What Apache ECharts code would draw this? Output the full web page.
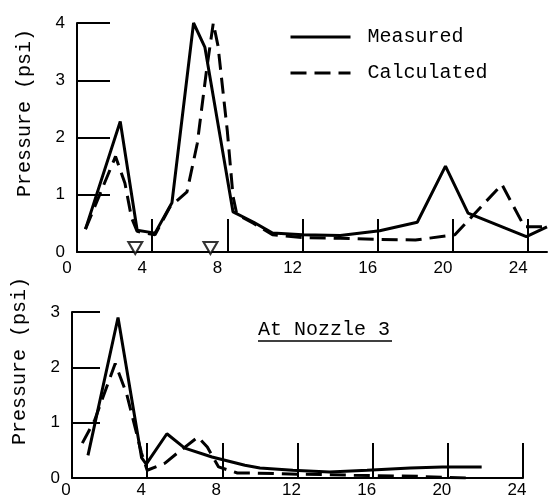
<!DOCTYPE html>
<html>
<head>
<meta charset="utf-8">
<script src="https://cdn.jsdelivr.net/npm/echarts@6/dist/echarts.min.js"></script>
<style>
  html, body { margin: 0; padding: 0; background: #fff; }
  #chart { width: 548px; height: 503px; }
</style>
</head>
<body>
<div id="chart"></div>
<script>
  // tick labels
  var xTicks = [0, 4, 8, 12, 16, 20, 24];

  // upper panel
  var topMeasuredX = [0.45, 2.3, 3.2, 4.15, 5.05, 6.2, 6.8, 8.3, 9.4, 10.4, 12, 14, 16.1, 18.1, 19.6, 20.8, 23.9, 25];
  var topMeasuredY = [0.4, 2.28, 0.38, 0.33, 0.86, 4.0, 3.58, 0.7, 0.52, 0.33, 0.3, 0.29, 0.37, 0.52, 1.5, 0.68, 0.27, 0.44];
  var topCalcX = [0.45, 2.05, 2.55, 2.9, 3.2, 4.15, 4.95, 5.85, 6.4, 6.9, 7.25, 7.5, 8.0, 8.3, 8.5, 9.4, 10.4, 12, 14, 16, 18, 20.1, 22.6, 23.8, 25];
  var topCalcY = [0.4, 1.67, 1.2, 0.6, 0.36, 0.3, 0.79, 1.05, 1.9, 3.2, 4.0, 3.6, 2.1, 0.97, 0.66, 0.5, 0.3, 0.25, 0.24, 0.22, 0.21, 0.3, 1.18, 0.44, 0.44];
  var markerX = [3.1, 7.1];
  var markerY = [0.07, 0.07];

  // lower panel (At Nozzle 3)
  var botMeasuredX = [0.85, 2.45, 3.7, 3.95, 5.05, 6.0, 7.45, 9.2, 10, 11.75, 13.7, 15.7, 18, 19.7, 21.8];
  var botMeasuredY = [0.41, 2.9, 0.37, 0.25, 0.8, 0.54, 0.38, 0.23, 0.18, 0.14, 0.11, 0.14, 0.18, 0.2, 0.2];
  var botCalcX = [0.55, 1.2, 2.3, 2.9, 3.7, 4.0, 4.95, 5.6, 6.7, 7.2, 7.8, 8.8, 9.5, 12, 15, 18.4, 20, 21];
  var botCalcY = [0.63, 1.04, 2.07, 1.53, 0.45, 0.14, 0.27, 0.45, 0.74, 0.56, 0.2, 0.09, 0.09, 0.07, 0.05, 0.03, 0.01, 0];

  function zip(xs, ys) {
    var out = [];
    for (var i = 0; i < xs.length; i++) out.push([xs[i], ys[i]]);
    return out;
  }

  var ink = '#000';
  var numFont = {fontFamily: 'Liberation Sans', fontSize: 17, color: ink};
  var monoFont = 'Liberation Mono';

  function xAxis(gi, max, tickLen, margin, shift) {
    return {
      gridIndex: gi, type: 'value', min: 0, max: max, interval: 4,
      axisLine: {lineStyle: {color: ink, width: 2}},
      axisTick: {inside: true, length: tickLen, customValues: xTicks, lineStyle: {color: ink, width: 2}},
      axisLabel: Object.assign({margin: margin, customValues: xTicks, padding: [0, shift, 0, 0]}, numFont),
      splitLine: {show: false}
    };
  }

  function yAxis(gi, max, tickLen) {
    return {
      gridIndex: gi, type: 'value', min: 0, max: max, interval: 1,
      axisLine: {lineStyle: {color: ink, width: 2}},
      axisTick: {inside: true, length: tickLen, lineStyle: {color: ink, width: 2}},
      axisLabel: Object.assign({margin: 12, padding: [0, 0, 10, 0]}, numFont),
      splitLine: {show: false}
    };
  }

  function line(name, gi, data, dashed) {
    return {
      name: name, type: 'line', xAxisIndex: gi, yAxisIndex: gi,
      data: data, symbol: 'none', z: 5,
      lineStyle: {color: ink, width: 3, type: dashed ? [16, 8] : 'solid'},
      itemStyle: {color: ink}
    };
  }

  var chart = echarts.init(document.getElementById('chart'));
  chart.setOption({
    animation: false,
    backgroundColor: '#fff',
    grid: [
      {left: 77, top: 23, width: 470, height: 229},
      {left: 72, top: 312, width: 451, height: 166}
    ],
    xAxis: [xAxis(0, 25, 33, 8, 20), xAxis(1, 24, 35, 4, 12)],
    yAxis: [yAxis(0, 4, 33), yAxis(1, 3, 28)],
    legend: {
      data: ['Measured', 'Calculated'],
      orient: 'vertical', left: 284, top: 22,
      itemWidth: 60, itemHeight: 14, itemGap: 16,
      itemStyle: {opacity: 0},
      lineStyle: {width: 3},
      textStyle: {fontFamily: monoFont, fontSize: 20, color: ink, padding: [0, 0, 0, 12]}
    },
    graphic: [
      {type: 'text', x: 25, y: 113, rotation: Math.PI / 2,
        style: {text: 'Pressure (psi)', font: '20px "Liberation Mono"', fill: ink, align: 'center', verticalAlign: 'middle'}},
      {type: 'text', x: 20, y: 361, rotation: Math.PI / 2,
        style: {text: 'Pressure (psi)', font: '20px "Liberation Mono"', fill: ink, align: 'center', verticalAlign: 'middle'}},
      {type: 'text', x: 258, y: 330,
        style: {text: 'At Nozzle 3', font: '20px "Liberation Mono"', fill: ink, align: 'left', verticalAlign: 'middle'}},
      {type: 'line', shape: {x1: 258, y1: 341, x2: 392, y2: 341}, style: {stroke: ink, lineWidth: 1.5}}
    ],
    series: [
      line('Measured', 0, zip(topMeasuredX, topMeasuredY), false),
      line('Calculated', 0, zip(topCalcX, topCalcY), true),
      line('Measured', 1, zip(botMeasuredX, botMeasuredY), false),
      line('Calculated', 1, zip(botCalcX, botCalcY), true),
      {
        name: 'nozzle', type: 'scatter', xAxisIndex: 0, yAxisIndex: 0,
        data: zip(markerX, markerY), symbol: 'triangle', symbolRotate: 180,
        symbolSize: [14, 12], z: 6,
        itemStyle: {color: '#fff', borderColor: ink, borderWidth: 2}
      }
    ]
  });
</script>
</body>
</html>
